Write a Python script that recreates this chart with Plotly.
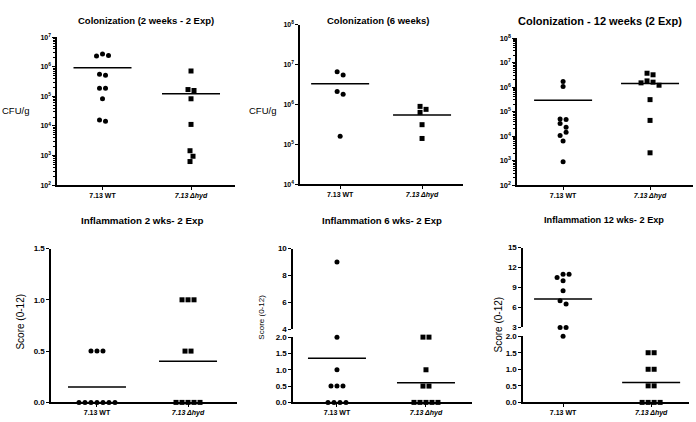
import numpy as np
import plotly.graph_objects as go

W, H = 696, 422
FONT = "Liberation Sans, Arial, sans-serif"

# ---------------- data ----------------
categories = ["7.13 WT", "7.13 Δhyd"]
cat_ticktext = ["<b>7.13 WT</b>", "<b><i>7.13 Δhyd</i></b>"]

titles = ["Colonization (2 weeks - 2 Exp)", "Colonization (6 weeks)",
          "Colonization - 12 weeks (2 Exp)", "Inflammation 2 wks- 2 Exp",
          "Inflammation 6 wks- 2 Exp", "Inflammation 12 wks- 2 Exp"]

col2_wt = [2.7e6, 2.4e6, 2.3e6, 5.6e5, 5.2e5, 1.9e5, 1.9e5, 8.4e4, 1.6e4, 1.45e4]
col2_hyd = [7.2e5, 1.7e5, 1.58e5, 8.3e4, 1.13e4, 1.46e3, 9.5e2, 6.3e2]
col2_mean = [9.3e5, 1.22e5]

col6_wt = [6.6e6, 5.4e6, 2.1e6, 1.8e6, 1.6e5]
col6_hyd = [8.9e5, 7.5e5, 6.3e5, 3.1e5, 1.4e5]
col6_mean = [3.3e6, 5.4e5]

col12_wt = [1.7e6, 1.07e6, 5.0e4, 4.8e4, 3.3e4, 2.3e4, 1.45e4, 1.07e4, 6.3e3, 9.0e2]
col12_hyd = [3.7e6, 3.2e6, 1.8e6, 1.6e6, 1.5e6, 1.2e6, 3.1e5, 4.4e4, 2.1e3]
col12_mean = [2.9e5, 1.4e6]

inf2_wt = [0.5, 0.5, 0.5, 0, 0, 0, 0, 0, 0, 0]
inf2_hyd = [1, 1, 1, 0.5, 0.5, 0, 0, 0, 0, 0]
inf2_mean = [0.15, 0.40]

inf6_wt = [9, 2, 1, 0.5, 0.5, 0.5, 0, 0, 0, 0]
inf6_hyd = [2, 2, 1, 0.5, 0.5, 0, 0, 0, 0, 0]
inf6_mean = [1.35, 0.6]

inf12_wt = [11, 11, 10.5, 10, 8.5, 7, 6.5, 3, 3, 2]
inf12_hyd = [1.5, 1.5, 1, 1, 0.5, 0.5, 0, 0, 0, 0]
inf12_mean = [7.25, 0.6]

log_ticks_tl = [2, 3, 4, 5, 6, 7]
log_ticks_tm = [4, 5, 6, 7, 8]
log_ticks_tr = [2, 3, 4, 5, 6, 7, 8]
lin_ticks_bl = [0, 0.5, 1.0, 1.5]
lin_ticks_low = [0, 0.5, 1.0, 1.5, 2.0]
lin_ticks_bm_up = [4, 6, 8, 10]
lin_ticks_br_up = [3, 6, 9, 12, 15]

# ---------------- geometry / style ----------------
def xdom(a, b):
    return [a / W, b / W]

def ydom(top, bottom):
    return [1 - bottom / H, 1 - top / H]

panels = [
    dict(xpx=(57, 235), xr=(-0.514, 1.497),
         segs=[dict(top=32, bot=184, type="log", r=(2, 7), ticks=log_ticks_tl, minor=True)],
         data=(col2_wt, col2_hyd), mean=col2_mean, tfs=7),
    dict(xpx=(300, 463), xr=(-0.49, 1.5),
         segs=[dict(top=19, bot=183, type="log", r=(4, 8), ticks=log_ticks_tm, minor=False)],
         data=(col6_wt, col6_hyd), mean=col6_mean, tfs=7),
    dict(xpx=(517, 693), xr=(-0.53, 1.494),
         segs=[dict(top=33, bot=184, type="log", r=(2, 8), ticks=log_ticks_tr, minor=True)],
         data=(col12_wt, col12_hyd), mean=col12_mean, tfs=7.5),
    dict(xpx=(51, 237), xr=(-0.505, 1.538),
         segs=[dict(top=249, bot=407, type="linear", r=(0, 1.5), ticks=lin_ticks_bl)],
         data=(inf2_wt, inf2_hyd), mean=inf2_mean, tfs=7),
    dict(xpx=(293, 472), xr=(-0.494, 1.517),
         segs=[dict(top=340, bot=407, type="linear", r=(0, 2), ticks=lin_ticks_low),
               dict(top=249, bot=332, type="linear", r=(4, 10), ticks=lin_ticks_bm_up)],
         data=(inf6_wt, inf6_hyd), mean=inf6_mean, tfs=7),
    dict(xpx=(523, 689), xr=(-0.455, 1.43),
         segs=[dict(top=339, bot=407, type="linear", r=(0, 2), ticks=lin_ticks_low),
               dict(top=248, bot=330, type="linear", r=(3, 15), ticks=lin_ticks_br_up)],
         data=(inf12_wt, inf12_hyd), mean=inf12_mean, tfs=7),
]

MARKERS = ["circle", "square"]
DIAM = 6.0
HALF_LINE_PX = 29


def seg_for(segs, v):
    if len(segs) == 1:
        return 0
    return 0 if v <= segs[0]["r"][1] else 1


def ypx(seg, v):
    t = np.log10(v) if seg["type"] == "log" else v
    lo, hi = seg["r"]
    return seg["bot"] - (t - lo) / (hi - lo) * (seg["bot"] - seg["top"])


def swarm(yp, diam):
    n = len(yp)
    order = sorted(range(n), key=lambda i: (yp[i], i))
    xs = [0.0] * n
    placed = []
    cands = [0.0]
    for k in range(1, 40):
        cands += [k * diam / 2, -k * diam / 2]
    for i in order:
        for c in cands:
            if all((c - px) ** 2 + (yp[i] - py) ** 2 >= (0.999 * diam) ** 2 for px, py in placed):
                xs[i] = c
                placed.append((c, yp[i]))
                break
    parent = list(range(n))

    def find(a):
        while parent[a] != a:
            parent[a] = parent[parent[a]]
            a = parent[a]
        return a

    for i in range(n):
        for j in range(i + 1, n):
            if (xs[i] - xs[j]) ** 2 + (yp[i] - yp[j]) ** 2 <= (1.25 * diam) ** 2:
                parent[find(i)] = find(j)
    groups = {}
    for i in range(n):
        groups.setdefault(find(i), []).append(i)
    for g in groups.values():
        m = sum(xs[i] for i in g) / len(g)
        for i in g:
            xs[i] -= m
    return xs


fig = go.Figure()
layout = {}
axis_base = dict(showline=True, linecolor="black", linewidth=1.6, ticks="outside",
                 ticklen=3, tickwidth=1, tickcolor="black", showgrid=False,
                 zeroline=False)

ax_id = 0
for p in panels:
    x0, x1 = p["xpx"]
    ppu = (x1 - x0) / (p["xr"][1] - p["xr"][0])
    seg_ids = []
    for si, seg in enumerate(p["segs"]):
        ax_id += 1
        xname = "xaxis" if ax_id == 1 else f"xaxis{ax_id}"
        yname = "yaxis" if ax_id == 1 else f"yaxis{ax_id}"
        xref = "x" if ax_id == 1 else f"x{ax_id}"
        yref = "y" if ax_id == 1 else f"y{ax_id}"
        seg_ids.append((xref, yref))
        xa = dict(axis_base, domain=xdom(x0, x1), range=list(p["xr"]), anchor=yref,
                  tickmode="array", tickvals=[0, 1], ticktext=cat_ticktext,
                  tickfont=dict(family=FONT, size=7, color="black"))
        if si > 0:
            xa = dict(domain=xdom(x0, x1), range=list(p["xr"]), anchor=yref, visible=False)
        layout[xname] = xa
        ya = dict(axis_base, domain=ydom(seg["top"], seg["bot"]), anchor=xref)
        if seg["type"] == "log":
            lo, hi = seg["r"]
            ya.update(type="log", range=[lo, hi], tickmode="array",
                      tickvals=[10.0 ** k for k in seg["ticks"]],
                      ticktext=[f"<b>10<sup>{k}</sup></b>" for k in seg["ticks"]],
                      tickfont=dict(family=FONT, size=p["tfs"], color="black"))
            if seg.get("minor"):
                ya["minor"] = dict(tickmode="array",
                                   tickvals=[m * 10.0 ** k for k in range(lo, hi) for m in range(2, 10)],
                                   ticks="outside", ticklen=2, tickcolor="black", tickwidth=1)
        else:
            ya.update(type="linear", range=list(seg["r"]), tickmode="array",
                      tickvals=seg["ticks"],
                      ticktext=[f"<b>{t:.1f}</b>" if si == 0 else f"<b>{t:g}</b>" for t in seg["ticks"]],
                      tickfont=dict(family=FONT, size=8, color="black"))
        layout[yname] = ya

    for ci, vals in enumerate(p["data"]):
        yp = []
        for v in vals:
            s = p["segs"][seg_for(p["segs"], v)]
            yp.append(ypx(s, v))
        offs = swarm(yp, DIAM)
        for si, (xref, yref) in enumerate(seg_ids):
            idx = [i for i, v in enumerate(vals) if seg_for(p["segs"], v) == si]
            if not idx:
                continue
            fig.add_trace(go.Scatter(
                x=[ci + offs[i] / ppu for i in idx], y=[vals[i] for i in idx],
                mode="markers", xaxis=xref, yaxis=yref, cliponaxis=False,
                marker=dict(symbol=MARKERS[ci], size=5, color="black", line=dict(width=0)),
                hoverinfo="skip"))
        m = p["mean"][ci]
        si = seg_for(p["segs"], m)
        xref, yref = seg_ids[si]
        hw = HALF_LINE_PX / ppu
        fig.add_trace(go.Scatter(x=[ci - hw, ci + hw], y=[m, m], mode="lines",
                                 xaxis=xref, yaxis=yref, cliponaxis=False,
                                 line=dict(color="black", width=1.5), hoverinfo="skip"))

# ---------------- annotations ----------------
title_pos = [(146, 15, 9.5), (378, 15, 9.5), (600, 15, 11),
             (142, 220, 9.8), (382, 220, 9.6), (604, 220, 9.2)]
ann = []
for t, (x, y, s) in zip(titles, title_pos):
    ann.append(dict(text=f"<b>{t}</b>", x=x / W, y=1 - y / H, xref="paper", yref="paper",
                    showarrow=False, xanchor="center", yanchor="middle",
                    font=dict(family=FONT, size=s, color="black")))

ylab = [("CFU/g", 15, 107, 9.5, 0), ("CFU/g", 262, 107, 9.5, 0),
        ("Score (0-12)", 21, 324, 10, -90), ("Score (0-12)", 262, 320, 8, -90),
        ("Score (0-12)", 498, 327, 10, -90)]
for t, x, y, s, a in ylab:
    ann.append(dict(text=t, x=x / W, y=1 - y / H, xref="paper", yref="paper",
                    showarrow=False, xanchor="center", yanchor="middle", textangle=a,
                    font=dict(family=FONT, size=s, color="black")))

fig.update_layout(**layout)
fig.update_layout(width=W, height=H, margin=dict(l=0, r=0, t=0, b=0),
                  paper_bgcolor="white", plot_bgcolor="white", showlegend=False,
                  annotations=ann, font=dict(family=FONT, color="black"))

fig.write_html("out.html", config={"displayModeBar": False, "staticPlot": True},
               post_script="document.body.style.margin='0';document.body.style.padding='0';document.body.style.overflow='hidden';")
